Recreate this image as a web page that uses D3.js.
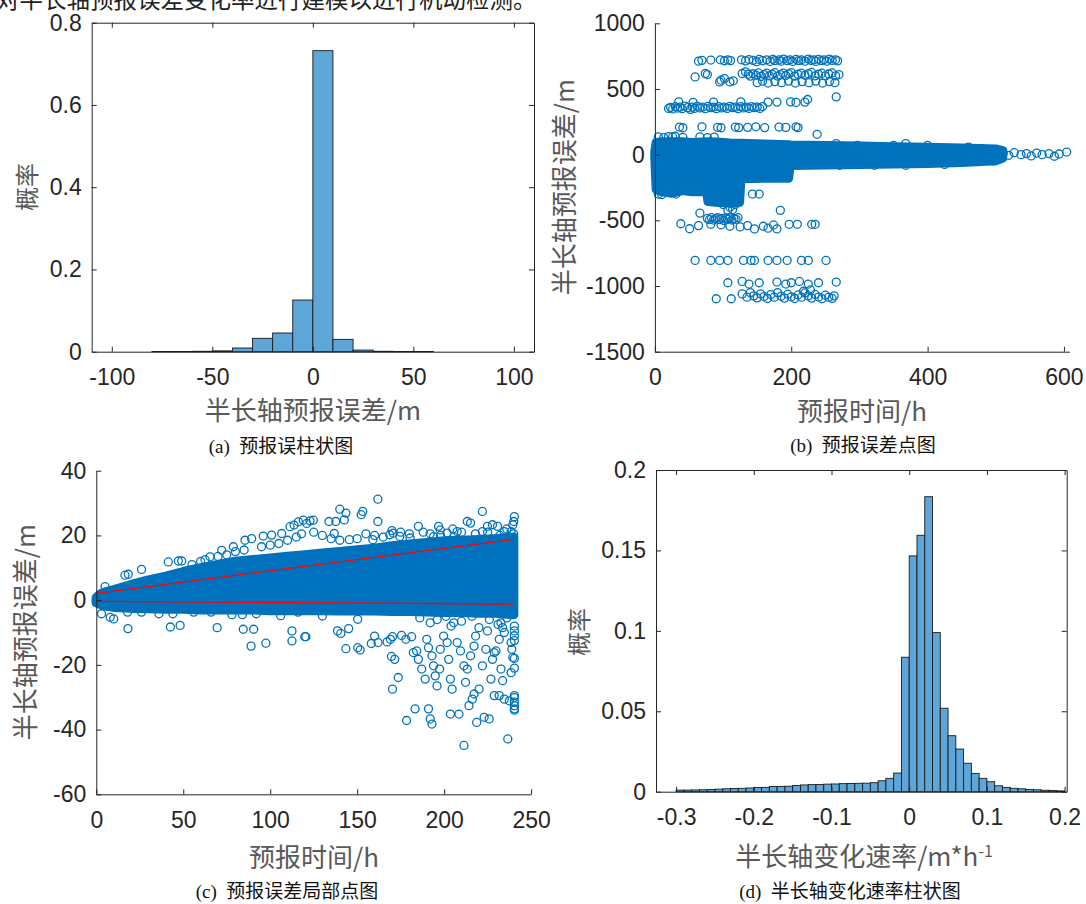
<!DOCTYPE html>
<html>
<head>
<meta charset="utf-8">
<script src="https://cdn.jsdelivr.net/npm/d3@7"></script>
<style>
  html, body { margin: 0; padding: 0; background: #fff; }
  svg { display: block; }
</style>
</head>
<body>
<svg id="fig" width="1086" height="904"></svg>
<script>
// ---------------- data ----------------
// (a) histogram of semi-major axis forecast error (bin width 10 m)
const errBinStart = [-80, -70, -60, -50, -40, -30, -20, -10, 0, 10, 20, 30, 40, 50];
const errProb     = [0.0005, 0.0005, 0.001, 0.002, 0.009, 0.0326, 0.0455, 0.1257, 0.732, 0.030, 0.004, 0.001, 0.0005, 0.0005];
const errBinWidth = 10;

// (d) histogram of semi-major axis change rate (bins of 0.01 starting at -0.30)
const rateBinLo = -0.30;
const rateBinWidth = 0.01;
const rateProb = [
  0.0010, 0.0010, 0.0011, 0.0012, 0.0013, 0.0016, 0.0018, 0.0020, 0.0021, 0.0023,
  0.0026, 0.0027, 0.0032, 0.0033, 0.0034, 0.0039, 0.0042, 0.0044, 0.0045, 0.0047,
  0.0048, 0.0050, 0.0051, 0.0052, 0.0053, 0.0056, 0.0068, 0.0083, 0.0116, 0.0836,
  0.1466, 0.1594, 0.1834, 0.0989, 0.0519, 0.0348, 0.0265, 0.0177, 0.0114, 0.0083,
  0.0062, 0.0037, 0.0027, 0.0021, 0.0018, 0.0014, 0.0012, 0.0009, 0.0007, 0.0005
];

// (b) forecast error vs forecast time: dense core [hour, low, high] and individual points [hour, metres]
const coreB = [
  [0, -20, 20], [2, -265, 92], [10, -282, 97], [25, -292, 97], [40, -272, 97], [55, -282, 92],
  [76, -282, 97], [78, -355, 97], [90, -362, 95], [110, -368, 88], [124, -362, 85], [126, -182, 85],
  [160, -178, 80], [196, -178, 75], [198, -82, 72], [250, -78, 68], [300, -74, 64], [350, -70, 60],
  [400, -66, 56], [450, -58, 50], [500, -46, 42], [510, -25, 30]
];
const pointsB = [
  // about +720 m
  [64,712],[69,718],[82,720],[96,722],[102,715],[107,722],[111,716],[127,722],[133,714],[138,724],
  [144,718],[149,708],[153,725],[158,716],[164,722],[169,710],[173,726],[176,716],[182,722],[185,712],
  [189,728],[194,716],[198,722],[202,710],[207,726],[211,716],[215,722],[220,712],[225,728],[229,718],
  [233,722],[236,710],[240,726],[244,716],[248,722],[252,712],[256,728],[260,718],[265,722],[268,714],
  // about +600 m
  [59,592],[74,618],[77,610],[95,554],[97,567],[102,579],[110,554],[115,562],[128,618],[133,630],
  [137,612],[140,598],[144,616],[148,605],[152,622],[156,596],[160,610],[164,620],[168,600],[172,612],
  [176,624],[180,598],[184,610],[188,620],[192,602],[196,615],[200,625],[205,598],[210,612],[215,620],
  [220,604],[225,616],[230,626],[235,600],[240,612],[245,620],[250,600],[255,614],[260,622],[265,600],[270,610],
  [150,548],[158,560],[166,545],[176,556],[186,548],[196,560],[206,545],[216,556],[226,548],[236,560],
  [246,545],[256,556],[264,548],[266,440],
  // about +360 m
  [20,352],[23,360],[26,348],[30,365],[33,355],[37,362],[40,350],[44,370],[48,358],[52,345],
  [55,362],[58,352],[62,368],[66,356],[70,362],[74,350],[78,368],[82,358],[86,362],[90,350],
  [94,366],[98,356],[102,362],[106,352],[110,368],[114,358],[118,362],[122,350],[126,366],[130,356],
  [134,362],[138,352],[142,366],[146,358],[150,362],[154,352],[158,366],
  [35,402],[56,398],[86,400],[126,402],[166,400],[179,400],[199,402],[207,398],[220,400],[224,420],
  // about +200 m and +130 m
  [36,210],[41,205],[69,212],[92,208],[97,205],[118,210],[123,206],[136,208],[148,212],[161,206],
  [182,210],[192,208],[207,212],[210,206],
  [5,135],[13,130],[20,138],[26,135],[30,140],[41,132],[66,136],[77,130],[87,134],[238,155],
  // below the core
  [5,-300],[10,-305],[31,-300],[143,-300],[153,-300],[100,-380],[118,-380],
  [66,-445],[77,-485],[80,-495],[83,-480],[86,-498],[89,-488],[92,-480],[95,-495],[98,-485],
  [101,-500],[104,-482],[107,-492],[110,-480],[113,-498],[116,-486],[119,-492],[122,-480],
  [107,-424],[114,-418],[110,-400],[184,-424],
  [38,-526],[51,-564],[64,-540],[82,-530],[97,-535],[110,-545],[125,-550],[136,-540],[146,-565],
  [159,-545],[166,-560],[174,-535],[179,-565],[197,-530],[209,-530],[230,-530],[235,-530],
  [59,-805],[82,-805],[95,-805],[107,-805],[130,-805],[141,-805],[146,-805],[166,-805],[179,-805],
  [194,-805],[215,-805],[225,-805],[251,-805],
  [107,-975],[128,-965],[138,-985],[153,-975],[179,-970],[192,-985],[200,-975],[212,-965],
  [225,-985],[240,-975],[266,-970],
  [90,-1097],[112,-1097],[128,-1060],[135,-1085],[140,-1050],[145,-1075],[150,-1090],[155,-1060],
  [160,-1080],[165,-1095],[170,-1065],[175,-1085],[180,-1050],[185,-1078],[190,-1092],[195,-1062],
  [200,-1082],[205,-1095],[210,-1068],[215,-1085],[220,-1052],[225,-1075],[230,-1092],[235,-1064],
  [240,-1084],[245,-1096],[250,-1070],[255,-1085],[260,-1094],[263,-1075],[218,-1040],[228,-1030],
  // around the long tail
  [266,84],[297,71],[368,84],[400,71],[271,-81],[322,-81],[368,-81],[425,-74],[496,-48],[460,58],
  [310,-60],[350,70],[440,-60],[480,45],
  [511,10],[519,-5],[527,15],[537,0],[545,8],[552,-10],[560,12],[568,0],[578,8],[586,-12],[593,5],[604,20]
];

// (c) close-up of forecast error within 240 h
const coreC = [
  [0,-0.8,0.8],[2,-1.2,1.8],[5,-1.8,2.5],[10,-2.2,3.2],[20,-2.5,4.8],[30,-2.6,6.2],[40,-2.8,7.4],
  [50,-2.8,8.8],[60,-3,10],[70,-3,11],[80,-3,12],[90,-3,12.5],[100,-3.2,13],[110,-3.2,13.5],
  [120,-3.2,14],[130,-3.2,14.5],[140,-3.3,15],[150,-3.3,15.5],[160,-3.3,16],[170,-3.5,16.8],
  [180,-3.5,17.3],[190,-3.6,17.8],[200,-3.8,18.3],[210,-3.8,18.5],[220,-4,18.7],[230,-4,19],[240,-4.5,19.5]
];
const pointsC = [
  // above the core
  [0,0],[5,4.2],[16.5,7.7],[18.4,8],[26,9.5],[41.4,11.8],[47.2,12.1],[49.1,12.1],[62.5,12.5],[65.4,13.4],
  [72.1,15.4],[78.8,16.5],[85.5,18.5],[89.3,19],[96,19.8],[100.8,20.1],[106.6,20.6],[111.4,22.7],
  [113.7,23.2],[116.2,24.2],[119,24.7],[121,23.7],[122.9,24.5],[124.8,24.7],
  [140,28.1],[143.5,26.9],[142.6,24.8],[136.8,20.6],[152.3,26.4],[153.2,27.4],[161.9,31.2],[161.9,24.3],
  [133.8,24.3],[137.7,24.3],[168.7,20.2],[170.7,20.7],[174.5,19.7],[185.2,22.8],[196.8,22.8],[197.8,21.7],
  [201.7,20.7],[207.5,21.2],[213.3,24.3],[215.2,23.8],[222,27.4],[222,21.2],[224.9,22.8],[227.8,23.3],
  [230.7,22.8],[234.6,21.2],[238.5,21.2],[240.4,25.8],[240,24.3],[239.5,23.3],[145.5,18.7],[159,18.7],
  [180.4,19.2],[193.9,19.6],[205.5,19.6],
  // fringe along the top of the core
  [55,11],[60,12],[70,13.5],[75,14],[80,15],[85,15.5],[95,16.5],[100,17],[105,17.5],[110,18.5],
  [115,19.5],[118,20.5],[125,21],[130,20],[135,19],[140,18.5],[150,19],[155,20.5],[160,20],[165,19.5],
  [170,21.5],[175,21],[180,20.5],[188,21],[192,20.5],[198,20],[205,22],[210,21],[218,20.5],[225,21],
  [232,20],[236,22],[240,20.5],
  // just below the core
  [3,-4.2],[8,-5.3],[10,-5.8],[18,-3.7],[26,-3.7],[36,-4.2],[44,-4.2],[56,-3.7],[66,-3.7],[78,-4.5],
  [84,-4.5],[92,-4.2],[106,-4.8],[116,-3.7],[124,-3.2],
  [186,-5.5],[192,-7],[196,-6],[201,-5],[204,-8],[210,-6.5],[216,-5],[220,-8.5],[226,-6],[231,-7.5],[236,-5.5],
  // scattered negatives
  [18.2,-8.8],[42.6,-8.3],[48.2,-7.8],[69.5,-8.5],[84.5,-9],[90.5,-9],[89,-14.2],[97.5,-13.3],
  [112.5,-9.5],[112.5,-12.6],[120.5,-11.3],
  [130,-4.9],[119.9,-11.3],[138.7,-9.5],[140.6,-10.3],[145.1,-8.8],[150.3,-5.9],[143.5,-15],[150.3,-14.7],
  [151.7,-15.4],[158.1,-13.4],[160,-11.1],[162,-13.1],[167.2,-12.9],[169.1,-12.1],[170.3,-11.3],[175.5,-10.9],
  [178,-12.1],[181.3,-11.3],[169.7,-17.4],[171.6,-18.3],[173.6,-23.9],[170.3,-27.5],[178.4,-37.2],[183.3,-33.6],
  [182.3,-16.2],[184.2,-15.7],[185.2,-18.3],[187.1,-21.3],[189.1,-24.4],[190,-12.1],[191,-14.7],[193,-17.2],
  [193.9,-20.3],[194.9,-23.4],[195.9,-26.5],[197.4,-21.3],[197.8,-15.2],[199.7,-11.1],[201.7,-13.1],[202.6,-18.3],
  [203.6,-24.4],[204.6,-27.5],[205.5,-7],[207.5,-13.1],[209.4,-15.7],[211.4,-20.3],[212.3,-25.4],[213.3,-21.3],
  [215.2,-17.2],[217.2,-14.2],[218.1,-11.1],[191,-33.6],[192,-36.7],[193,-38.3],[203.6,-35.2],[208.5,-35.2],
  [211.4,-44.9],[214.3,-32.6],[216.2,-30.6],[217.2,-29],[220.1,-27.5],[222,-20.3],[224,-15.2],[224.9,-9.5],
  [226.9,-24.4],[218.7,-37.8],[223,-36.2],[225.9,-36.7],[236.6,-42.9],[227.8,-18.3],[228.8,-29.5],[229.8,-15.7],
  [231.7,-12.1],[232.7,-7],[233.6,-8.5],[234.6,-10],[238.5,-13.1],[238.9,-15.2],[239.5,-17.7],[238.5,-22.4],
  [233.6,-24.9],[232.7,-21.3],[228.8,-16.2],[231.7,-29.5],[234.6,-30.6],[237.5,-31.1],[240.4,-30.1],
  [240.4,-32.6],[240.4,-33.6],[240.4,-8],[240.4,-9.5],[240.4,-11],[240.4,-12.5],[240.4,-18],[240.4,-21],
  [240.4,-29.5],[240.4,-31.5],[240.4,-34]
];
// envelope lines
const fitUpper = [[0, 2.1], [240, 18.8]];
const fitLower = [[0, -0.4], [240, -1.2]];

// ticks
const ticksAx = [-100, -50, 0, 50, 100], ticksAy = [0, 0.2, 0.4, 0.6, 0.8];
const ticksBx = [0, 200, 400, 600],      ticksBy = [-1500, -1000, -500, 0, 500, 1000];
const ticksCx = [0, 50, 100, 150, 200, 250], ticksCy = [-60, -40, -20, 0, 20, 40];
const ticksDx = [-0.3, -0.2, -0.1, 0, 0.1, 0.2], ticksDy = [0, 0.05, 0.1, 0.15, 0.2];

// texts
const leadText = "对半长轴预报误差变化率进行建模以进行机动检测。";
const captions = [
  ["(a)", "预报误柱状图"], ["(b)", "预报误差点图"],
  ["(c)", "预报误差局部点图"], ["(d)", "半长轴变化速率柱状图"]
];

// ---------------- styling ----------------
const BLUE = "#0072bd";
const BAR = "#5fa6d8";
const AXIS = "#262626";
const LABEL = "#595959";
const NUM_FONT = "'Liberation Sans', Arial, Helvetica, sans-serif";
const CJK_FONT = "'Noto Sans CJK SC', 'Noto Sans', sans-serif";
const SERIF = "'Liberation Serif', 'Times New Roman', serif";
const MARK_R = 4;

const svg = d3.select("#fig");

function drawAxes(g, x, y, xt, yt, box) {
  const fmt = d => String(d);
  g.append("g").attr("class", "ax")
    .attr("transform", `translate(0,${y.range()[0]})`)
    .call(d3.axisBottom(x).tickValues(xt).tickFormat(fmt).tickSizeInner(-5).tickSizeOuter(0).tickPadding(17));
  g.append("g").attr("class", "ax")
    .attr("transform", `translate(${x.range()[0]},0)`)
    .call(d3.axisLeft(y).tickValues(yt).tickFormat(fmt).tickSizeInner(-5).tickSizeOuter(0).tickPadding(10));
  if (box) {
    g.append("g").attr("class", "ax")
      .attr("transform", `translate(0,${y.range()[1]})`)
      .call(d3.axisTop(x).tickValues(xt).tickFormat("").tickSizeInner(-5).tickSizeOuter(0));
    g.append("g").attr("class", "ax")
      .attr("transform", `translate(${x.range()[1]},0)`)
      .call(d3.axisRight(y).tickValues(yt).tickFormat("").tickSizeInner(-5).tickSizeOuter(0));
  }
  g.selectAll(".ax").attr("font-family", NUM_FONT).attr("font-size", 23);
  g.selectAll(".ax path, .ax line").attr("stroke", AXIS).attr("stroke-width", 1);
  g.selectAll(".ax text").attr("fill", AXIS);
}

function xLabel(g, cx, by, text, size) {
  return g.append("text").attr("x", cx).attr("y", by).attr("text-anchor", "middle")
    .attr("font-family", CJK_FONT).attr("font-size", size).attr("fill", LABEL).text(text);
}
function yLabel(g, cx, cy, text, size) {
  return g.append("text").attr("transform", `translate(${cx},${cy}) rotate(-90)`)
    .attr("dy", "0.38em").attr("text-anchor", "middle")
    .attr("font-family", CJK_FONT).attr("font-size", size).attr("fill", LABEL).text(text);
}
function scatter(g, x, y, core, pts) {
  const area = d3.area().x(d => x(d[0])).y0(d => y(d[1])).y1(d => y(d[2]));
  g.append("path").datum(core).attr("d", area)
    .attr("fill", BLUE).attr("stroke", BLUE).attr("stroke-width", 2 * MARK_R + 1.3)
    .attr("stroke-linejoin", "round");
  g.selectAll("circle").data(pts).join("circle")
    .attr("cx", d => x(d[0])).attr("cy", d => y(d[1])).attr("r", MARK_R)
    .attr("fill", "none").attr("stroke", BLUE).attr("stroke-width", 1.3);
}

// leading line of body text (partly above the page edge)
svg.append("text").attr("x", -4).attr("y", 8)
  .attr("font-family", CJK_FONT).attr("font-size", 23.5).attr("fill", "#222")
  .text(leadText);

// ---------------- (a) ----------------
{
  const g = svg.append("g");
  const x = d3.scaleLinear().domain([-110, 110]).range([91.7, 534]);
  const y = d3.scaleLinear().domain([0, 0.8]).range([351.7, 22.7]);
  g.selectAll("rect.bar").data(errBinStart).join("rect").attr("class", "bar")
    .attr("x", d => x(d)).attr("width", d => x(d + errBinWidth) - x(d))
    .attr("y", (d, i) => y(errProb[i])).attr("height", (d, i) => y(0) - y(errProb[i]))
    .attr("fill", BAR).attr("stroke", "#1a1a1a").attr("stroke-width", 0.9);
  drawAxes(g, x, y, ticksAx, ticksAy, true);
  xLabel(g, 313, 420, "半长轴预报误差/m", 26);
  yLabel(g, 27, 187, "概率", 24);
}

// ---------------- (b) ----------------
{
  const g = svg.append("g");
  const x = d3.scaleLinear().domain([0, 608]).range([654.9, 1069.4]);
  const y = d3.scaleLinear().domain([-1500, 1000]).range([351.7, 23.3]);
  scatter(g, x, y, coreB, pointsB);
  drawAxes(g, x, y, ticksBx, ticksBy, false);
  xLabel(g, 862, 421, "预报时间/h", 26);
  yLabel(g, 564, 187, "半长轴预报误差/m", 26);
}

// ---------------- (c) ----------------
{
  const g = svg.append("g");
  const x = d3.scaleLinear().domain([0, 250]).range([96.3, 531.1]);
  const y = d3.scaleLinear().domain([-60, 40]).range([794.3, 470.7]);
  scatter(g, x, y, coreC, pointsC);
  const line = d3.line().x(d => x(d[0])).y(d => y(d[1]));
  [fitUpper, fitLower].forEach(l => g.append("path").datum(l).attr("d", line)
    .attr("fill", "none").attr("stroke", "#ff0000").attr("stroke-width", 1.3));
  drawAxes(g, x, y, ticksCx, ticksCy, false);
  xLabel(g, 314, 867, "预报时间/h", 26);
  yLabel(g, 25, 632, "半长轴预报误差/m", 26);
}

// ---------------- (d) ----------------
{
  const g = svg.append("g");
  const x = d3.scaleLinear().domain([-0.3259, 0.2027]).range([656, 1066.7]);
  const y = d3.scaleLinear().domain([0, 0.2]).range([791.7, 470]);
  g.selectAll("rect.bar").data(rateProb).join("rect").attr("class", "bar")
    .attr("x", (d, i) => x(rateBinLo + i * rateBinWidth))
    .attr("width", (d, i) => x(rateBinLo + (i + 1) * rateBinWidth) - x(rateBinLo + i * rateBinWidth))
    .attr("y", d => y(d)).attr("height", d => y(0) - y(d))
    .attr("fill", BAR).attr("stroke", "#1a1a1a").attr("stroke-width", 0.9);
  drawAxes(g, x, y, ticksDx, ticksDy, true);
  const t = xLabel(g, 864, 866, "半长轴变化速率/m*h", 26);
  t.append("tspan").attr("dy", "-0.55em").attr("font-size", 16).text("-1");
  yLabel(g, 579, 632, "概率", 24);
}

// ---------------- captions ----------------
const capPos = [[281, 453], [863, 452], [287, 898], [850, 898]];
captions.forEach((c, i) => {
  const t = svg.append("text").attr("x", capPos[i][0]).attr("y", capPos[i][1])
    .attr("text-anchor", "middle").attr("font-size", 19).attr("fill", "#111");
  t.append("tspan").attr("font-family", SERIF).text(c[0] + "\u00a0\u00a0");
  t.append("tspan").attr("font-family", CJK_FONT).text(c[1]);
});
</script>
</body>
</html>
